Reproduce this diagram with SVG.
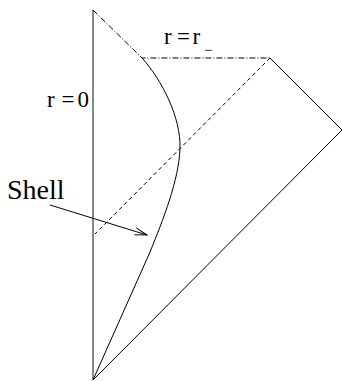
<svg xmlns="http://www.w3.org/2000/svg" width="342" height="381" viewBox="0 0 342 381">
<style>
.ln{fill:none;stroke:#000;stroke-width:1}
.dd{stroke-dasharray:6 2 1 2}
.ds{stroke-dasharray:4 3}
.t{font-family:"Liberation Serif","Times New Roman",serif;fill:#000}
</style>
<defs>
<marker id="ah" markerWidth="14" markerHeight="10" refX="13" refY="5" orient="auto" markerUnits="userSpaceOnUse">
<path d="M1,1.5 L13,5 L1,8.5" fill="none" stroke="#000" stroke-width="1"/>
</marker>
</defs>
<rect width="342" height="381" fill="#fff"/>
<g id="connectors">
<line id="axis" x1="93" y1="10" x2="93" y2="380" stroke="#555" stroke-width="1.4"/>
<path class="ln dd" d="M93,10 L142,58 L270,58"/>
<path class="ln" d="M270,58 L342,130 L93,380"/>
<path class="ln ds" d="M270,58 L95,234"/>
<path id="shell-curve" class="ln" d="M142,58 C162,80 181,118 180,148 C179,180 163,220 150,252 L93,380"/>
<line class="ln" x1="50" y1="205" x2="147" y2="235" marker-end="url(#ah)"/>
</g>
<g id="label-r0"><text class="t" y="107" font-size="23"><tspan x="47">r</tspan><tspan x="61.5">=</tspan><tspan x="77.5">0</tspan></text></g>
<g id="label-rminus"><text class="t" y="44" font-size="23"><tspan x="164">r</tspan><tspan x="177">=</tspan><tspan x="192.5">r</tspan><tspan x="204" y="55" font-size="15">−</tspan></text></g>
<g id="label-shell"><text class="t" x="7" y="199" font-size="28">Shell</text></g>
</svg>
